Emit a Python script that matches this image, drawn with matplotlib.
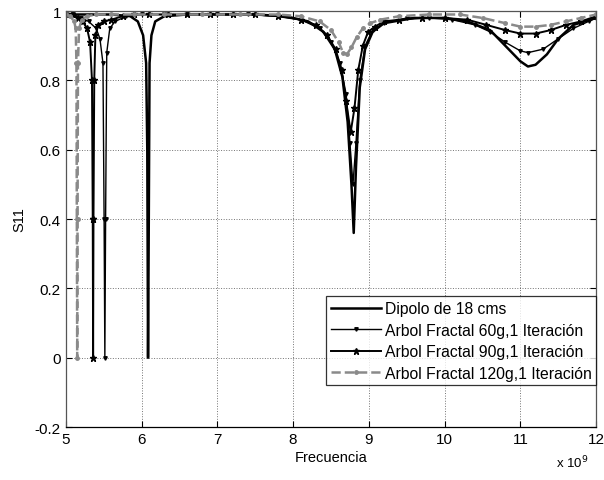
import matplotlib.pyplot as plt

plt.rcParams['font.family'] = ['Liberation Sans', 'DejaVu Sans']

# Frecuencia en GHz (eje x en unidades de 1e9), S11
dip_f = [5.0, 5.3, 5.6, 5.85, 5.95, 6.02, 6.06, 6.075, 6.085, 6.095, 6.105,
         6.13, 6.18, 6.3, 6.6, 7.0, 7.5, 7.9, 8.2, 8.4, 8.55, 8.65, 8.72,
         8.77, 8.80, 8.83, 8.88, 8.95, 9.05, 9.2, 9.6, 10.0, 10.3, 10.6,
         10.8, 11.0, 11.1, 11.2, 11.35, 11.5, 11.7, 12.0]
dip_s = [0.99, 0.99, 0.99, 0.985, 0.97, 0.93, 0.85, 0.60, 0.0, 0.40, 0.85,
         0.93, 0.97, 0.985, 0.99, 0.99, 0.99, 0.985, 0.97, 0.94, 0.89, 0.81, 0.68,
         0.50, 0.36, 0.55, 0.78, 0.89, 0.94, 0.965, 0.98, 0.98, 0.97, 0.945,
         0.90, 0.855, 0.84, 0.845, 0.875, 0.92, 0.96, 0.98]

f60_f = [5.0, 5.1, 5.2, 5.3, 5.4, 5.45, 5.49, 5.505, 5.515, 5.525, 5.54,
         5.58, 5.65, 5.8, 6.0, 6.3, 6.6, 7.0, 7.4, 7.8, 8.1, 8.35, 8.5, 8.62,
         8.7, 8.75, 8.79, 8.83, 8.88, 8.95, 9.05, 9.2, 9.5, 9.8, 10.1, 10.4,
         10.6, 10.8, 11.0, 11.1, 11.3, 11.5, 11.7, 11.9, 12.0]
f60_s = [0.99, 0.99, 0.98, 0.97, 0.95, 0.92, 0.85, 0.40, 0.0, 0.40, 0.88,
         0.95, 0.97, 0.985, 0.99, 0.99, 0.99, 0.99, 0.99, 0.985, 0.975, 0.95, 0.91, 0.85,
         0.76, 0.62, 0.50, 0.62, 0.80, 0.90, 0.945, 0.965, 0.98, 0.98, 0.975, 0.96,
         0.94, 0.91, 0.885, 0.88, 0.89, 0.92, 0.95, 0.97, 0.98]

f90_f = [5.0, 5.08, 5.16, 5.22, 5.28, 5.32, 5.345, 5.355, 5.36, 5.365, 5.375,
         5.39, 5.43, 5.5, 5.6, 5.75, 5.9, 6.1, 6.35, 6.6, 6.9, 7.2, 7.5, 7.8,
         8.1, 8.3, 8.45, 8.56, 8.64, 8.7, 8.76, 8.81, 8.86, 8.92, 8.99, 9.08,
         9.2, 9.4, 9.7, 10.0, 10.3, 10.55, 10.8, 11.0, 11.2, 11.4, 11.6, 11.8, 12.0]
f90_s = [0.99, 0.99, 0.98, 0.97, 0.95, 0.91, 0.80, 0.40, 0.0, 0.40, 0.80,
         0.93, 0.96, 0.97, 0.975, 0.985, 0.99, 0.99, 0.99, 0.99, 0.99, 0.99, 0.99, 0.985,
         0.975, 0.96, 0.93, 0.89, 0.83, 0.74, 0.65, 0.72, 0.83, 0.90, 0.94, 0.955,
         0.97, 0.975, 0.98, 0.98, 0.975, 0.96, 0.945, 0.935, 0.935, 0.945, 0.96, 0.97, 0.985]

f120_f = [5.0, 5.06, 5.11, 5.13, 5.14, 5.145, 5.15, 5.155, 5.16, 5.175, 5.21,
          5.28, 5.4, 5.6, 5.9, 6.3, 6.8, 7.3, 7.8, 8.1, 8.35, 8.5, 8.6, 8.66,
          8.71, 8.77, 8.84, 8.92, 9.02, 9.15, 9.4, 9.8, 10.2, 10.5, 10.8, 11.0,
          11.2, 11.4, 11.6, 11.8, 12.0]
f120_s = [0.99, 0.985, 0.97, 0.95, 0.85, 0.40, 0.0, 0.40, 0.85, 0.95, 0.975,
          0.985, 0.99, 0.99, 0.99, 0.99, 0.99, 0.99, 0.99, 0.985, 0.97, 0.945, 0.91, 0.88,
          0.875, 0.895, 0.925, 0.95, 0.965, 0.975, 0.985, 0.99, 0.99, 0.98, 0.965, 0.955,
          0.955, 0.96, 0.97, 0.98, 0.99]

labels = ['Dipolo de 18 cms',
          'Arbol Fractal 60g,1 Iteración',
          'Arbol Fractal 90g,1 Iteración',
          'Arbol Fractal 120g,1 Iteración']
xticks = [5, 6, 7, 8, 9, 10, 11, 12]
yticks = [-0.2, 0, 0.2, 0.4, 0.6, 0.8, 1]

fig = plt.figure(figsize=(6.04, 4.81), dpi=100)
ax = fig.add_axes([0.109, 0.110, 0.878, 0.865])

ax.plot(dip_f, dip_s, '-', color='black', lw=1.8, label=labels[0])
ax.plot(f60_f, f60_s, '-', color='black', lw=1.0, marker='v', ms=2.5,
        label=labels[1])
ax.plot(f90_f, f90_s, '-', color='black', lw=1.4, marker='*', ms=5,
        label=labels[2])
ax.plot(f120_f, f120_s, '--', color='#8a8a8a', lw=1.8, marker='o', ms=2.5,
        mfc='#8a8a8a', mec='#8a8a8a', label=labels[3])

ax.set_xlim(5, 12)
ax.set_ylim(-0.2, 1)
ax.set_xticks(xticks)
ax.set_yticks(yticks)
ax.set_yticklabels(['-0.2', '0', '0.2', '0.4', '0.6', '0.8', '1'])
ax.tick_params(direction='in', top=True, right=True, labelsize=11, length=4)
ax.grid(True, linestyle=':', color='black', lw=0.7, alpha=0.55)
for s in ax.spines.values():
    s.set_color('#555555')
    s.set_linewidth(0.9)
ax.spines['bottom'].set_color('black')

ax.set_xlabel('Frecuencia', fontsize=10.5, labelpad=3)
ax.set_ylabel('S11', fontsize=10.5, labelpad=6)
ax.text(0.985, -0.065, r'x 10$^9$', transform=ax.transAxes, fontsize=9.5,
        ha='right', va='top')

leg = ax.legend(loc='lower right', bbox_to_anchor=(1.0, 0.1), fontsize=11.3,
                frameon=True, fancybox=False, edgecolor='black',
                borderpad=0.3, labelspacing=0.42, handlelength=3.2,
                handletextpad=0.2, borderaxespad=0.0)
leg.get_frame().set_linewidth(0.9)

fig.savefig('out.png', dpi=100)
